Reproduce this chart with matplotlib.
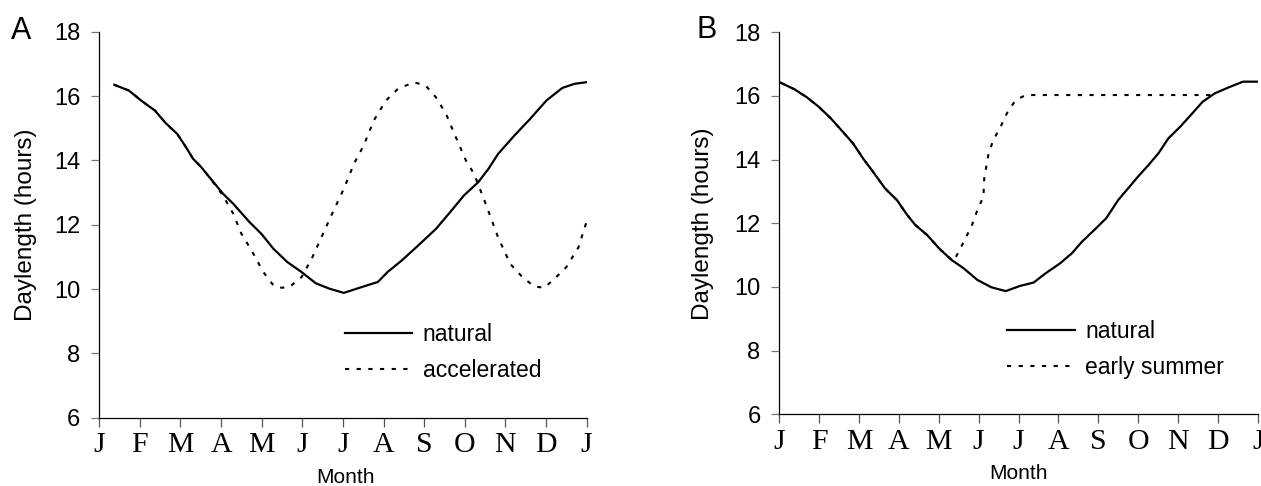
"""Daylength regimes: natural vs accelerated (A) and natural vs early summer (B)."""

import matplotlib

matplotlib.use("Agg")
import matplotlib.pyplot as plt  # noqa: E402

MONTH_LABELS = ["J", "F", "M", "A", "M", "J", "J", "A", "S", "O", "N", "D", "J"]

# panel A -- months since 1 Jan, daylength in hours
a_nat_month = [0.37, 0.73, 1.03, 1.37, 1.62, 1.92, 2.11, 2.31, 2.51, 2.71, 3.05,
               3.30, 3.70, 3.99, 4.29, 4.63, 4.98, 5.33, 5.67, 6.02, 6.46, 6.86,
               7.10, 7.45, 7.85, 8.29, 8.64, 8.98, 9.33, 9.58, 9.82, 10.22, 10.61,
               11.01, 11.40, 11.70, 12.0]
a_nat_hours = [16.35, 16.17, 15.86, 15.55, 15.18, 14.82, 14.46, 14.05, 13.79, 13.48,
               12.96, 12.65, 12.08, 11.72, 11.25, 10.84, 10.53, 10.18, 10.01, 9.88,
               10.06, 10.22, 10.53, 10.89, 11.35, 11.87, 12.39, 12.91, 13.32, 13.73,
               14.20, 14.77, 15.29, 15.86, 16.25, 16.38, 16.43]

a_acc_month = [0.37, 0.73, 1.03, 1.37, 1.62, 1.92, 2.11, 2.31, 2.51, 2.71, 3.05,
               3.30, 3.50, 3.75, 4.04, 4.29, 4.49, 4.68, 4.98, 5.23, 5.47, 5.77,
               6.02, 6.27, 6.51, 6.76, 7.06, 7.35, 7.75, 8.04, 8.29, 8.54, 8.78,
               9.03, 9.23, 9.53, 9.82, 10.12, 10.42, 10.71, 10.96, 11.21, 11.50,
               11.80, 12.0]
a_acc_hours = [16.35, 16.17, 15.86, 15.55, 15.18, 14.82, 14.46, 14.05, 13.79, 13.48,
               12.90, 12.34, 11.72, 11.20, 10.53, 10.11, 10.04, 10.06, 10.37, 10.94,
               11.61, 12.44, 13.11, 13.89, 14.46, 15.24, 15.86, 16.22, 16.43, 16.32,
               15.96, 15.44, 14.72, 13.99, 13.58, 12.60, 11.61, 10.78, 10.37, 10.08,
               10.04, 10.32, 10.68, 11.30, 12.10]

# panel B
b_nat_month = [0.03, 0.38, 0.69, 0.99, 1.29, 1.59, 1.85, 2.10, 2.35, 2.65, 2.95,
               3.21, 3.41, 3.71, 4.01, 4.32, 4.62, 4.97, 5.32, 5.68, 6.03, 6.38,
               6.68, 7.04, 7.34, 7.59, 7.90, 8.20, 8.50, 8.75, 9.00, 9.26, 9.51,
               9.76, 10.06, 10.32, 10.62, 10.92, 11.27, 11.63, 12.0]
b_nat_hours = [16.42, 16.21, 15.96, 15.66, 15.30, 14.88, 14.51, 14.04, 13.62, 13.10,
               12.73, 12.26, 11.95, 11.63, 11.21, 10.85, 10.59, 10.22, 9.99, 9.87,
               10.03, 10.14, 10.43, 10.74, 11.06, 11.42, 11.79, 12.16, 12.73, 13.10,
               13.47, 13.83, 14.20, 14.67, 15.04, 15.40, 15.82, 16.08, 16.27, 16.45,
               16.45]

b_early_month = [0.03, 0.38, 0.69, 0.99, 1.29, 1.59, 1.85, 2.10, 2.35, 2.65, 2.95,
                 3.21, 3.41, 3.71, 4.01, 4.37, 4.52, 4.82, 4.97, 5.12, 5.14, 5.25,
                 5.37, 5.53, 5.73, 5.93, 6.18, 10.95]
b_early_hours = [16.42, 16.21, 15.96, 15.66, 15.30, 14.88, 14.51, 14.04, 13.62, 13.10,
                 12.73, 12.26, 11.95, 11.63, 11.21, 10.80, 11.16, 11.90, 12.42, 12.84,
                 13.41, 14.20, 14.62, 14.98, 15.51, 15.87, 16.03, 16.03]

plt.rcParams["font.family"] = ["Liberation Sans", "DejaVu Sans"]

DOT = (0, (2.0, 3.6))


def style_axes(ax, xlab_x, ylab_x):
    ax.set_xlim(0, 12)
    ax.set_ylim(6, 18)
    ax.set_yticks(range(6, 19, 2))
    ax.set_xticks(range(13))
    ax.set_xticklabels(MONTH_LABELS, family=["Liberation Serif", "DejaVu Serif"],
                       fontsize=21.5)
    for s in ("top", "right"):
        ax.spines[s].set_visible(False)
    for s in ("left", "bottom"):
        ax.spines[s].set_linewidth(0.9)
    ax.tick_params(axis="x", direction="out", length=6.5, width=0.9,
                   color="#555555", pad=4)
    ax.tick_params(axis="y", direction="out", length=5.5, width=0.9,
                   color="#777777", pad=8, labelsize=17)
    ax.set_xlabel("Month", fontsize=15)
    ax.xaxis.set_label_coords(xlab_x, -0.13)
    ax.set_ylabel("Daylength (hours)", fontsize=17.5)
    ax.yaxis.set_label_coords(ylab_x, 0.5)


fig = plt.figure(figsize=(12.61, 4.86), dpi=100)
ax_a = fig.add_axes([0.0787, 0.1405, 0.3865, 0.7943])
ax_b = fig.add_axes([0.618, 0.1475, 0.3794, 0.786])

ax_a.plot(a_acc_month, a_acc_hours, color="black", lw=1.5, ls=DOT,
          label="accelerated", zorder=2)
ax_a.plot(a_nat_month, a_nat_hours, color="black", lw=1.6, label="natural", zorder=3)
style_axes(ax_a, 0.505, -0.128)
h, l = ax_a.get_legend_handles_labels()
ax_a.legend(h[::-1], l[::-1], loc="center left", bbox_to_anchor=(0.504, 0.169),
            frameon=False, fontsize=16.5, handlelength=2.95, handletextpad=0.45,
            labelspacing=0.55, borderpad=0, borderaxespad=0)

ax_b.plot(b_early_month, b_early_hours, color="black", lw=1.5, ls=DOT,
          label="early summer", zorder=2)
ax_b.plot(b_nat_month, b_nat_hours, color="black", lw=1.6, label="natural", zorder=3)
style_axes(ax_b, 0.501, -0.1365)
h, l = ax_b.get_legend_handles_labels()
ax_b.legend(h[::-1], l[::-1], loc="center left", bbox_to_anchor=(0.476, 0.170),
            frameon=False, fontsize=16.5, handlelength=2.95, handletextpad=0.45,
            labelspacing=0.55, borderpad=0, borderaxespad=0)

fig.text(0.0087, 0.92, "A", fontsize=22)
fig.text(0.552, 0.922, "B", fontsize=22)

fig.savefig("out.png", dpi=100)
plt.close(fig)
